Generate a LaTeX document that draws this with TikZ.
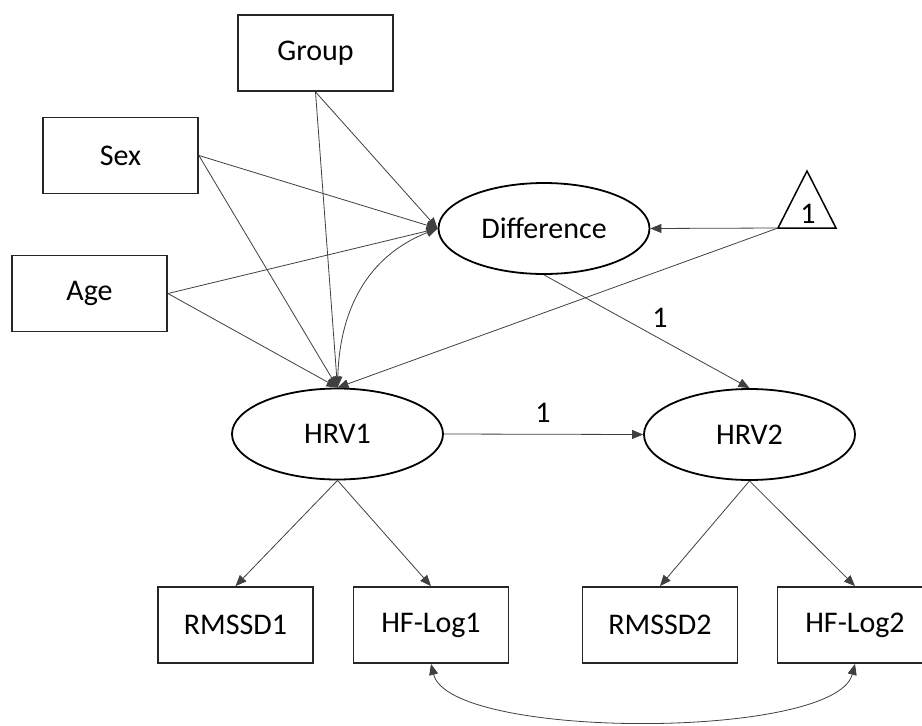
\documentclass[tikz,border=0pt]{standalone}
\usepackage{fontspec}
\setmainfont{Carlito}
\usetikzlibrary{shapes.geometric,arrows.meta}
\begin{document}
\begin{tikzpicture}[x=1pt,y=-1pt,
  txt/.style={font=\fontsize{30}{36}\selectfont},
  box/.style={txt,draw=black!85,line width=1.8pt,rectangle,minimum width=155pt,minimum height=76pt,inner sep=0pt},
  latent/.style={txt,draw=black,line width=1.8pt,ellipse,minimum width=211pt,minimum height=91pt,inner sep=0pt},
  tip/.style={Triangle[length=11pt,width=9pt]},
  conn/.style={draw=black!75,line width=0.8pt,-{Triangle[length=11pt,width=9pt]}},
  dconn/.style={draw=black!75,line width=0.8pt,{Triangle[length=11pt,width=9pt]}-{Triangle[length=11pt,width=9pt]}},
  lbl/.style={txt,inner sep=0pt}]
\fill[white] (0,0) rectangle (922,726);
\useasboundingbox (0,0) rectangle (922,726);

\node[box] (group) at (315.5,53) {Group};
\node[box] (sex) at (120.5,155.5) {Sex};
\node[box] (age) at (89.5,293.5) {Age};
\node[latent] (diff) at (544,228.5) {Difference};
\node[latent] (hrv1) at (337.5,434) {HRV1};
\node[latent] (hrv2) at (749.5,434.5) {HRV2};
\node[box] (rm1) at (235.5,625) {RMSSD1};
\node[box] (hf1) at (431,625) {HF-Log1};
\node[box] (rm2) at (660,625) {RMSSD2};
\node[box] (hf2) at (855,625) {HF-Log2};

\coordinate (tl) at (778,228);
\coordinate (tr) at (836,228);
\coordinate (tt) at (807,171);
\draw[line width=1.5pt,line join=miter] (tl) -- (tt) -- (tr) -- cycle;
\node[lbl] (one) at (808,214) {1};

\draw[conn] (group.south) -- (diff.west);
\draw[conn] (sex.east) -- (diff.west);
\draw[conn] (age.east) -- (diff.west);
\draw[conn] (group.south) -- (hrv1.north);
\draw[conn] (sex.east) -- (hrv1.north);
\draw[conn] (age.east) -- (hrv1.north);
\draw[conn] (tl) -- (hrv1.north);
\draw[conn] (tl) -- (diff.east);
\draw[dconn] (diff.west) .. controls (375,253) and (340,300) .. (hrv1.north);

\draw[conn] (diff.south) -- (hrv2.north);
\node[lbl] (l1) at (660,318) {1};
\draw[conn] (hrv1.east) -- (hrv2.west);
\node[lbl] (l2) at (543,413) {1};

\draw[conn] (hrv1.south) -- (rm1.north);
\draw[conn] (hrv1.south) -- (hf1.north);
\draw[conn] (hrv2.south) -- (rm2.north);
\draw[conn] (hrv2.south) -- (hf2.north);

\draw[dconn] (hf1.south) .. controls (450,740) and (835,740) .. (hf2.south);
\end{tikzpicture}
\end{document}
